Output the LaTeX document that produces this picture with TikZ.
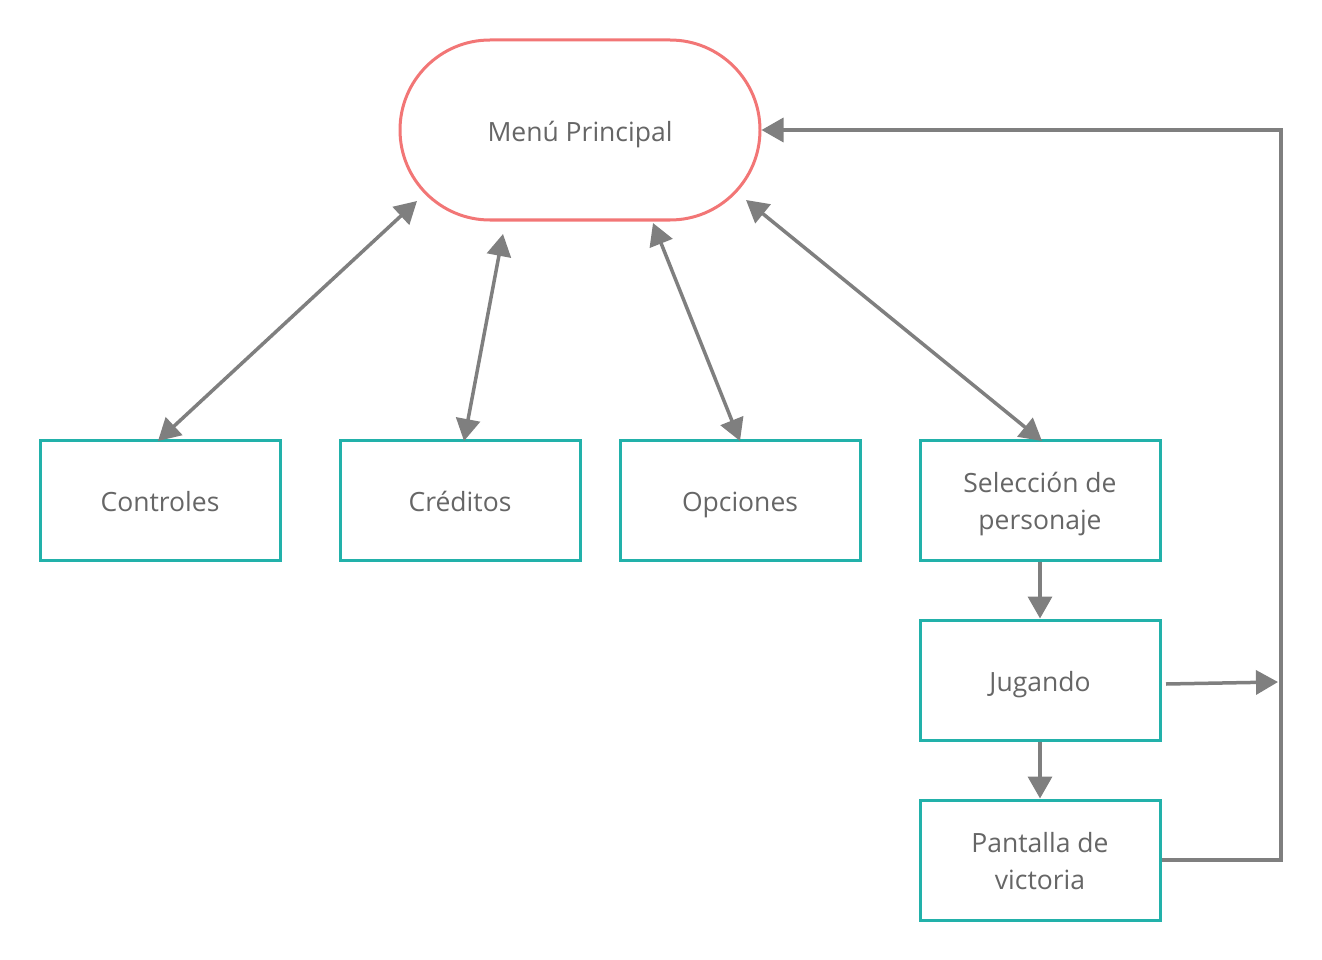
\documentclass[tikz,border=0pt]{standalone}
\usepackage{fontspec}
\setmainfont{Open Sans}
\usetikzlibrary{arrows.meta}
\definecolor{menured}{HTML}{F27676}
\definecolor{boxteal}{HTML}{22B1AA}
\definecolor{linkgray}{HTML}{7F7F7F}
\definecolor{textgray}{HTML}{666666}
% tall first-line strut that sets the text a little lower in its box
\newcommand\tallstrut{\rule{0pt}{34pt}}
\begin{document}
\begin{tikzpicture}[x=1pt,y=-1pt,
  every node/.style={font=\fontsize{26.5}{37}\selectfont, text=textgray, align=center},
  screen/.style={draw=boxteal, line width=3pt, minimum width=240pt, minimum height=120pt, inner sep=0pt, fill=white},
  menu/.style={draw=menured, line width=3pt, rounded corners=90pt, minimum width=360pt, minimum height=180pt, inner sep=0pt, fill=white},
  link/.style={draw=linkgray, line width=3.5pt, -{Triangle[length=22pt,width=24pt]}},
  twoway/.style={link, {Triangle[length=22pt,width=24pt]}-{Triangle[length=22pt,width=24pt]}}]
\useasboundingbox (0,0) rectangle (1322,960);
% main menu and screens
\node[menu] (menu) at (580,130) {\tallstrut\strut Menú Principal};
\node[screen] (ctrl) at (160,500) {\tallstrut\strut Controles};
\node[screen] (cred) at (460,500) {\tallstrut\strut Créditos};
\node[screen] (opts) at (740,500) {\tallstrut\strut Opciones};
\node[screen] (sel) at (1040,500) {\tallstrut Selección de\\personaje\strut};
\node[screen] (play) at (1040,680) {\tallstrut\strut Jugando};
\node[screen] (win) at (1040,860) {\tallstrut Pantalla de\\victoria\strut};
% endpoints of the two-way links around the menu
\coordinate (m1) at (417,201);
\coordinate (m2) at (503,234);
\coordinate (m3) at (653,223);
\coordinate (m4) at (746,200);
\coordinate (c1) at (158,441);
\coordinate (c2) at (464,441);
\coordinate (c3) at (740,441);
\coordinate (c4) at (1042,441);
\coordinate (playout) at (1166,684);
\coordinate (rail) at (1278,682);
\coordinate (corner1) at (1281,860);
\coordinate (corner2) at (1281,130);
\draw[twoway] (c1) -- (m1);
\draw[twoway] (c2) -- (m2);
\draw[twoway] (c3) -- (m3);
\draw[twoway] (c4) -- (m4);
\draw[link] (sel.south) -- (play.north);
\draw[link] (play.south) -- (win.north);
\draw[link] (playout) -- (rail);
\draw[link] (win.east) -- (corner1) -- (corner2) -- (menu.east);
\end{tikzpicture}
\end{document}
